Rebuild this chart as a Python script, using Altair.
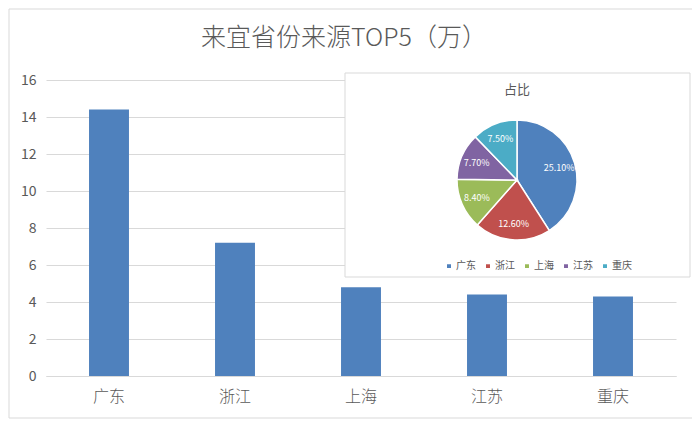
import altair as alt
import pandas as pd

provinces = ["广东", "浙江", "上海", "江苏", "重庆"]
visitors = [14.4, 7.2, 4.8, 4.4, 4.3]
shares = [25.1, 12.6, 8.4, 7.7, 7.5]
colors = ["#4F81BD", "#C0504D", "#9BBB59", "#8064A2", "#4BACC6"]
y_ticks = [0, 2, 4, 6, 8, 10, 12, 14, 16]
main_title = "来宜省份来源TOP5（万）"
pie_title = "占比"

FONT = "Noto Sans CJK SC"
GREY = "#595959"
LINE = "#d9d9d9"

df = pd.DataFrame({
    "province": provinces,
    "visitors": visitors,
    "share": shares,
    "order": list(range(len(provinces))),
})
one = pd.DataFrame({"a": [0]})

W, H = 630, 296

frame = alt.Chart(one).mark_rect(fillOpacity=0, stroke=LINE, strokeWidth=1).encode(
    x=alt.value(-37), x2=alt.value(650), y=alt.value(-71), y2=alt.value(338)
)

title_text = alt.Chart(one).mark_text(fontSize=25, color=GREY, font=FONT, fontWeight=300,
                                      baseline="middle").encode(
    x=alt.value(298), y=alt.value(-42), text=alt.value(main_title)
)

bars = alt.Chart(df).mark_bar(color="#4F81BD").encode(
    x=alt.X("province:N", sort=provinces, title=None,
            scale=alt.Scale(paddingInner=0.683, paddingOuter=0.3415),
            axis=alt.Axis(labelAngle=0, labelFontSize=16, labelColor=GREY, labelFont=FONT,
                          labelFontWeight=300,
                          ticks=False, domain=True, domainColor=LINE, labelPadding=12)),
    y=alt.Y("visitors:Q", title=None,
            scale=alt.Scale(domain=[0, 16], nice=False),
            axis=alt.Axis(values=y_ticks, labelFontSize=14, labelColor=GREY, labelFont=FONT,
                          ticks=False, domain=False, gridColor=LINE, labelPadding=10)),
)

inset = alt.Chart(one).mark_rect(fill="white", stroke=LINE, strokeWidth=1).encode(
    x=alt.value(299), x2=alt.value(644), y=alt.value(-7), y2=alt.value(197)
)

inset_title = alt.Chart(one).mark_text(fontSize=13, color=GREY, font=FONT, baseline="middle").encode(
    x=alt.value(471), y=alt.value(10), text=alt.value(pie_title)
)

pie = alt.Chart(df).mark_arc(outerRadius=60, stroke="white", strokeWidth=1.5).encode(
    theta=alt.Theta("share:Q", stack=True),
    order=alt.Order("order:Q"),
    color=alt.Color("province:N", sort=provinces,
                    scale=alt.Scale(domain=provinces, range=colors),
                    legend=alt.Legend(title=None, orient="none", legendX=398, legendY=181,
                                      direction="horizontal", symbolType="square",
                                      symbolSize=30, labelFontSize=10, labelColor=GREY,
                                      labelFont=FONT, columnPadding=6, labelOffset=2)),
    x=alt.value(471), y=alt.value(100),
)

pie_labels = alt.Chart(df).transform_calculate(
    label="format(datum.share, '.2f') + '%'"
).mark_text(radius=44, color="white", fontSize=9, font=FONT).encode(
    theta=alt.Theta("share:Q", stack=True),
    order=alt.Order("order:Q"),
    text="label:N",
    x=alt.value(471), y=alt.value(100),
)

chart = alt.layer(frame, title_text, bars, inset, inset_title, pie, pie_labels).properties(
    width=W, height=H,
    autosize=alt.AutoSizeParams(type="none"),
    padding={"left": 38, "top": 72, "right": 16, "bottom": 44},
).configure_view(stroke=None)

chart.save("out.html", embed_options={"renderer": "svg", "actions": False})
